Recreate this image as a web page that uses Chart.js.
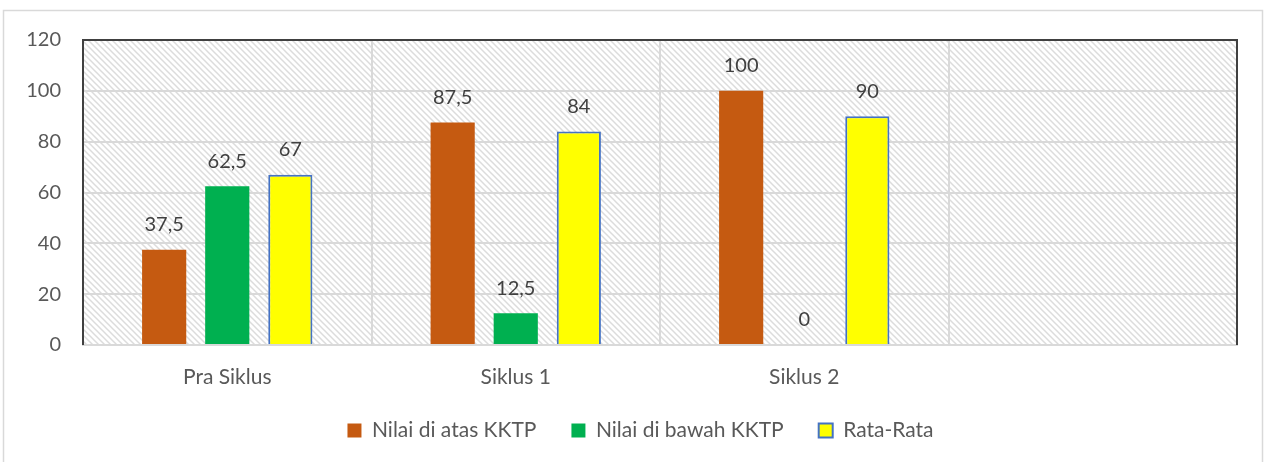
<!DOCTYPE html>
<html>
<head>
<meta charset="utf-8">
<script src="https://cdn.jsdelivr.net/npm/chart.js@4/dist/chart.umd.min.js"></script>
<style>
  html, body { margin: 0; padding: 0; background: #fff; }
  #wrap { width: 1266px; height: 462px; position: relative; }
</style>
</head>
<body>
<div id="wrap"><canvas id="grafico" width="1266" height="462"></canvas></div>
<script>

// data
const kategori = ["Pra Siklus", "Siklus 1", "Siklus 2", ""];
const nilaiAtas = [37.5, 87.5, 100, null];
const nilaiBawah = [62.5, 12.5, 0, null];
const rataRata = [67, 84, 90, null];
const yTicks = [0, 20, 40, 60, 80, 100, 120];

const fontUtama = "Lato, 'Open Sans', sans-serif";

// hatched plot background
function buatPola(){
    const c = document.createElement("canvas");
    c.width = 6;
    c.height = 6;
    const g = c.getContext("2d");
    g.fillStyle = "#ffffff";
    g.fillRect(0, 0, 6, 6);
    g.strokeStyle = "#dcdcdc";
    g.lineWidth = 1.5;
    g.beginPath();
    g.moveTo(-3, 3); g.lineTo(3, 9);
    g.moveTo(0, 0); g.lineTo(6, 6);
    g.moveTo(3, -3); g.lineTo(9, 3);
    g.stroke();
    return g.createPattern(c, "repeat");
}

const latarPlot = {
    id: "latarPlot",
    afterLayout(chart){
        // legend in the original sits a bit right of the canvas centre
        chart.legend.left += 22;
        chart.legend.right += 22;
    },
    beforeDraw(chart){
        const ctx = chart.ctx;
        const a = chart.chartArea;
        ctx.save();
        // outer frame
        ctx.strokeStyle = "#d9d9d9";
        ctx.lineWidth = 1.5;
        ctx.strokeRect(3.5, 10.5, 1259, 460);
        ctx.fillStyle = buatPola();
        ctx.fillRect(a.left, a.top, a.right - a.left, a.bottom - a.top);
        ctx.restore();
    },
    afterDraw(chart){
        const ctx = chart.ctx;
        const a = chart.chartArea;
        ctx.save();
        ctx.strokeStyle = "#404040";
        ctx.lineWidth = 2;
        ctx.beginPath();
        ctx.moveTo(a.left, a.bottom);
        ctx.lineTo(a.left, a.top);
        ctx.lineTo(a.right, a.top);
        ctx.lineTo(a.right, a.bottom);
        ctx.stroke();
        ctx.restore();
    }
};

const labelNilai = {
    id: "labelNilai",
    afterDatasetsDraw(chart){
        const ctx = chart.ctx;
        ctx.save();
        ctx.font = "20px " + fontUtama;
        ctx.fillStyle = "#404040";
        ctx.textAlign = "center";
        ctx.textBaseline = "middle";
        chart.data.datasets.forEach((ds, i) => {
            const meta = chart.getDatasetMeta(i);
            meta.data.forEach((el, j) => {
                const v = ds.data[j];
                if(v === null || v === undefined) return;
                ctx.fillText(String(v).replace(".", ","), el.x, el.y - 25);
            });
        });
        ctx.restore();
    }
};

new Chart(
    document.getElementById("grafico"),
    {
        type: "bar",
        data: {
            labels: kategori,
            datasets: [
                {
                    label: "Nilai di atas KKTP",
                    data: nilaiAtas,
                    backgroundColor: "#c55a11",
                    borderWidth: 0
                },
                {
                    label: "Nilai di bawah KKTP",
                    data: nilaiBawah,
                    backgroundColor: "#00b050",
                    borderWidth: 0
                },
                {
                    label: "Rata-Rata",
                    data: rataRata,
                    backgroundColor: "#ffff00",
                    borderColor: "#4472c4",
                    borderWidth: 2
                }
            ]
        },
        options: {
            responsive: false,
            animation: false,
            categoryPercentage: 0.656,
            barPercentage: 0.7,
            layout: {
                padding: { top: 40, right: 29, left: 0, bottom: 11 }
            },
            plugins: {
                legend: {
                    position: "bottom",
                    labels: {
                        font: { family: fontUtama, size: 21 },
                        color: "#595959",
                        boxWidth: 14,
                        boxHeight: 14,
                        padding: 35
                    }
                },
                tooltip: { enabled: false },
                title: { display: false }
            },
            scales: {
                x: {
                    grid: {
                        color: "#d9d9d9",
                        lineWidth: 2,
                        drawTicks: false,
                        offset: true
                    },
                    border: { color: "#d9d9d9", width: 2 },
                    ticks: {
                        font: { family: fontUtama, size: 21 },
                        color: "#595959",
                        padding: 20
                    },
                    afterFit(scale){ scale.height = 40; }
                },
                y: {
                    min: 0,
                    max: 120,
                    afterBuildTicks(scale){
                        scale.ticks = yTicks.map(v => ({ value: v }));
                    },
                    grid: {
                        color: "#d9d9d9",
                        lineWidth: 2,
                        drawTicks: false
                    },
                    border: { display: false },
                    ticks: {
                        font: { family: fontUtama, size: 20 },
                        color: "#595959",
                        padding: 22
                    },
                    afterFit(scale){ scale.width = 83; }
                }
            }
        },
        plugins: [latarPlot, labelNilai]
    }
);

</script>
</body>
</html>
